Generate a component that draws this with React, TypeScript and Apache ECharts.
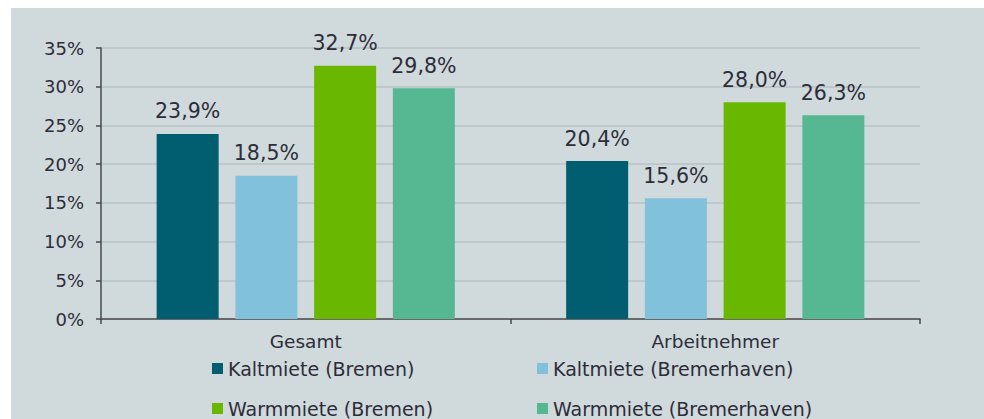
import React, { useEffect, useRef } from "react";
import * as echarts from "echarts";

const categories = ["Gesamt", "Arbeitnehmer"];
const seriesNames = [
  "Kaltmiete (Bremen)",
  "Kaltmiete (Bremerhaven)",
  "Warmmiete (Bremen)",
  "Warmmiete (Bremerhaven)",
];
const kaltBremen = [23.9, 20.4];
const kaltBremerhaven = [18.5, 15.6];
const warmBremen = [32.7, 28.0];
const warmBremerhaven = [29.8, 26.3];
const yTicks = [0, 5, 10, 15, 20, 25, 30, 35];
const colors = ["#005e70", "#82c1dc", "#6ab700", "#55b893"];

export default function App() {
  const ref = useRef<HTMLDivElement>(null);
  useEffect(() => {
    document.body.style.margin = "0";
    const chart = echarts.init(ref.current!, null, { renderer: "svg" });
    const values = [kaltBremen, kaltBremerhaven, warmBremen, warmBremerhaven];
    const font = "'DejaVu Sans', sans-serif";
    const textColor = "#2d2d3a";
    const legendCommon = {
      orient: "vertical",
      top: 354,
      height: 100,
      itemWidth: 11,
      itemHeight: 11,
      itemGap: 21,
      icon: "rect",
      textStyle: { fontSize: 19, color: textColor, fontFamily: font },
    };
    chart.setOption({
      animation: false,
      backgroundColor: "#ffffff",
      textStyle: { fontFamily: font },
      graphic: [
        {
          type: "rect",
          left: 11,
          top: 8,
          shape: { width: 973, height: 411 },
          style: { fill: "#d0d9db" },
          z: -10,
          silent: true,
        },
      ],
      grid: { left: 101, right: 64, top: 48, bottom: 100, containLabel: false },
      legend: [
        { ...legendCommon, data: [seriesNames[0], seriesNames[2]], left: 207 },
        { ...legendCommon, data: [seriesNames[1], seriesNames[3]], left: 532 },
      ],
      xAxis: {
        type: "category",
        data: categories,
        axisLine: { lineStyle: { color: "#4a4a4a", width: 1.5 } },
        axisTick: { show: true, length: 5, lineStyle: { color: "#4a4a4a", width: 1.5 } },
        axisLabel: { fontSize: 18.5, color: textColor, margin: 13, fontFamily: font },
      },
      yAxis: {
        type: "value",
        min: yTicks[0],
        max: yTicks[yTicks.length - 1],
        interval: yTicks[1] - yTicks[0],
        axisLine: { show: true, lineStyle: { color: "#4a4a4a", width: 1.5 } },
        axisTick: { show: true, length: 5, lineStyle: { color: "#4a4a4a", width: 1.5 } },
        splitLine: { lineStyle: { color: "#b9c1c4", width: 1.5 } },
        axisLabel: {
          fontSize: 18,
          color: textColor,
          margin: 17,
          fontFamily: font,
          formatter: (v: number) => `${v}%`,
        },
      },
      series: seriesNames.map((name, i) => ({
        name,
        type: "bar",
        data: values[i],
        barWidth: 62,
        barGap: "27%",
        itemStyle: { color: colors[i] },
        label: {
          show: true,
          position: "top",
          distance: 12,
          fontSize: 20.5,
          color: textColor,
          fontFamily: font,
          formatter: (p: any) => `${p.value.toFixed(1).replace(".", ",")}%`,
        },
      })),
    });
    return () => chart.dispose();
  }, []);
  return <div ref={ref} style={{ width: 984, height: 419 }} />;
}
